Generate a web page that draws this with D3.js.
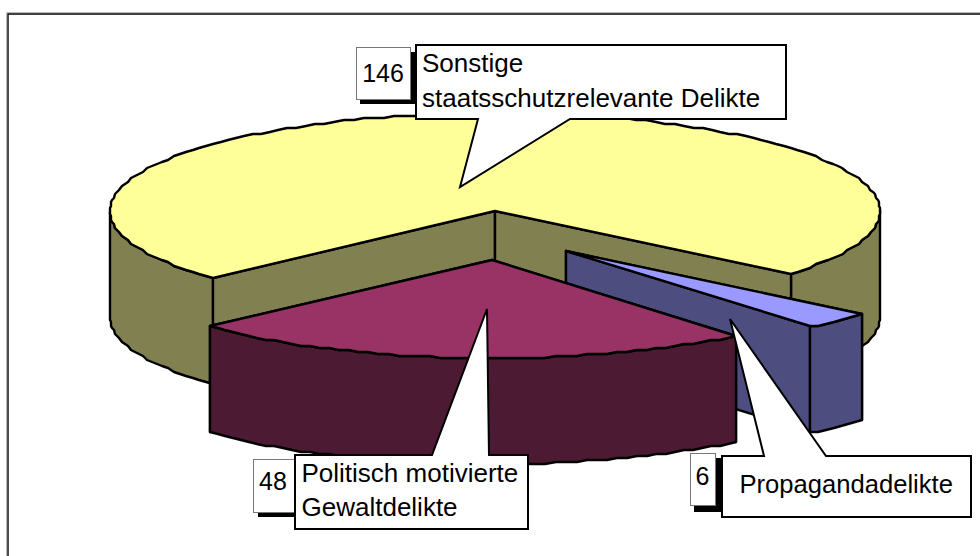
<!DOCTYPE html>
<html>
<head>
<meta charset="utf-8">
<script src="https://cdn.jsdelivr.net/npm/d3@7"></script>
<style>
  html, body { margin: 0; padding: 0; background: #fff; }
  svg { display: block; }
  text { font-family: "Liberation Sans", Arial, sans-serif; fill: #000; }
</style>
</head>
<body>
<div id="chart"></div>
<script>
// 3D exploded pie, values
const categories = ["Sonstige staatsschutzrelevante Delikte", "Propagandadelikte", "Politisch motivierte Gewaltdelikte"];
const values = [146, 6, 48];
const topColors = ["#FFFF99", "#9999FF", "#993366"];
const sideColors = ["#808050", "#4D4D80", "#4D1A33"];
const labelLines = [
  ["Sonstige", "staatsschutzrelevante Delikte"],
  ["Propagandadelikte"],
  ["Politisch motivierte", "Gewaltdelikte"]
];

const width = 980, height = 556;

const svg = d3.select("#chart").append("svg")
  .attr("width", width)
  .attr("height", height)
  .attr("viewBox", [0, 0, width, height]);

// Frame, only top and left are inside the picture
svg.append("path")
  .attr("d", "M6.5,556V12.5H980")
  .attr("fill", "none")
  .attr("stroke", "#bbb")
  .attr("stroke-width", 1);
svg.append("path")
  .attr("d", "M8,556V14H980")
  .attr("fill", "none")
  .attr("stroke", "#000")
  .attr("stroke-width", 1.4);

// Pie geometry: ellipse in screen space, angle clockwise from the top
const cx = 495, cy = 211, rx = 385, ry = 98, depth = 106;
const offsets = [[0, 0], [71, 40], [-3, 49]];
const outlineWidth = 2.4;

const pie = d3.pie().sort(null)
  .startAngle(227 * Math.PI / 180)
  .endAngle((227 + 360) * Math.PI / 180);
const slices = pie(values);

// x and y run from the unit circle to the flattened ellipse
const xScale = d3.scaleLinear().domain([-1, 1]).range([cx - rx, cx + rx]);
const yScale = d3.scaleLinear().domain([-1, 1]).range([cy - ry, cy + ry]);

function rimPoint(a, off, dz) {
  // rounding to 2px keeps the stepped look of the old raster rim
  return [
    Math.round(xScale(Math.sin(a)) + off[0]),
    2 * Math.round((yScale(-Math.cos(a)) + off[1] + dz) / 2)
  ];
}

function rim(a0, a1, off, dz) {
  const n = Math.max(2, Math.ceil(Math.abs(a1 - a0) / (1.6 * Math.PI / 180)));
  return d3.range(n + 1).map(i => rimPoint(a0 + (a1 - a0) * i / n, off, dz));
}

const line = d3.line();
const closed = pts => line(pts) + "Z";

function face(g, pts, fill) {
  g.append("path")
    .attr("d", closed(pts))
    .attr("fill", fill)
    .attr("stroke", "#000")
    .attr("stroke-width", outlineWidth)
    .attr("stroke-linejoin", "round");
}

// Outer wall: only the part of the rim facing the viewer (90..270 degrees)
function outerWall(g, s, off, fill) {
  const PI = Math.PI;
  for (const k of [0, 2]) {
    const lo = Math.max(s.startAngle, PI / 2 + k * PI);
    const hi = Math.min(s.endAngle, 3 * PI / 2 + k * PI);
    if (lo < hi) {
      const top = rim(lo, hi, off, 0);
      const bottom = rim(lo, hi, off, depth).reverse();
      face(g, top.concat(bottom), fill);
    }
  }
}

// Cut wall from the centre to the rim at angle a
function cutWall(g, a, off, fill) {
  const c = [cx + off[0], cy + off[1]];
  const p = rimPoint(a, off, 0);
  face(g, [c, p, [p[0], p[1] + depth], [c[0], c[1] + depth]], fill);
}

function topFace(g, s, off, fill) {
  const c = [cx + off[0], cy + off[1]];
  face(g, [c].concat(rim(s.startAngle, s.endAngle, off, 0)), fill);
}

const pieGroup = svg.append("g");

// Back to front: big slice, small slice, exploded slice
slices.forEach((s, i) => {
  const off = offsets[i], g = pieGroup.append("g");
  if (i === 0) outerWall(g, s, off, sideColors[i]);
  cutWall(g, s.startAngle, off, sideColors[i]);
  cutWall(g, s.endAngle, off, sideColors[i]);
  if (i !== 0) outerWall(g, s, off, sideColors[i]);
  topFace(g, s, off, topColors[i]);
});

// Callouts, the tail runs tail[0] -> tip -> tail[1] along the side given by tailY
const boxes = [
  { x: 416, y: 45, w: 370, h: 74, tail: [570, 478], tip: [460, 187], tailSide: "bottom",
    num: { x: 356, y: 47, w: 54, h: 52, tx: 383, ty: 82 },
    shadow: { x: 360, y: 52, w: 58, h: 52 },
    tx: 422, ty: [72, 107], size: 26 },
  { x: 722, y: 456, w: 249, h: 61, tail: [764, 826], tip: [730, 319], tailSide: "top",
    num: { x: 690, y: 453, w: 25, h: 52, tx: 702.5, ty: 485 },
    shadow: { x: 694, y: 458, w: 30, h: 54 },
    tx: 739.5, ty: [493], size: 25.6 },
  { x: 295, y: 455, w: 233, h: 74, tail: [432, 489], tip: [487, 309], tailSide: "top",
    num: { x: 253, y: 459, w: 41, h: 53, tx: 273, ty: 490 },
    shadow: { x: 258, y: 464, w: 39, h: 53 },
    tx: 301.5, ty: [482, 516], size: 26 }
];

const numberSize = 25;
const callouts = svg.append("g");

boxes.forEach((b, i) => {
  const g = callouts.append("g");
  g.append("rect")
    .attr("x", b.shadow.x).attr("y", b.shadow.y)
    .attr("width", b.shadow.w).attr("height", b.shadow.h)
    .attr("fill", "#000");
  g.append("rect")
    .attr("x", b.num.x + 0.5).attr("y", b.num.y + 0.5)
    .attr("width", b.num.w).attr("height", b.num.h)
    .attr("fill", "#fff")
    .attr("stroke", "#777")
    .attr("stroke-width", 1);
  g.append("text")
    .attr("x", b.num.tx).attr("y", b.num.ty)
    .attr("text-anchor", "middle")
    .style("font-size", numberSize + "px")
    .text(values[i]);

  const r = b.x + b.w, bot = b.y + b.h;
  const pts = b.tailSide === "bottom"
    ? [[b.x, b.y], [r, b.y], [r, bot], [b.tail[0], bot], b.tip, [b.tail[1], bot], [b.x, bot]]
    : [[b.x, b.y], [b.tail[0], b.y], b.tip, [b.tail[1], b.y], [r, b.y], [r, bot], [b.x, bot]];
  g.append("path")
    .attr("d", closed(pts))
    .attr("fill", "#fff")
    .attr("stroke", "#000")
    .attr("stroke-width", 2);

  labelLines[i].forEach((t, j) => {
    g.append("text")
      .attr("x", b.tx).attr("y", b.ty[j])
      .style("font-size", b.size + "px")
      .text(t);
  });
});
</script>
</body>
</html>
